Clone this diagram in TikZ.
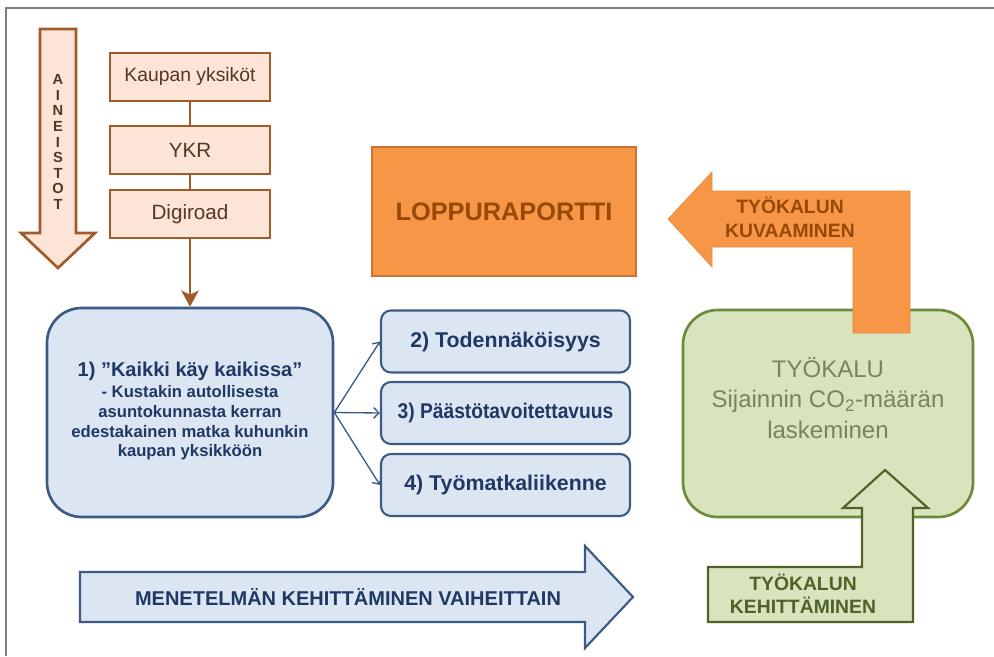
\documentclass[tikz,border=0pt]{standalone}
\usepackage{fontspec}
\setmainfont{Liberation Sans}
\usepackage{graphicx}
\usetikzlibrary{arrows.meta}
\definecolor{peach}{HTML}{FCE4D6}
\definecolor{brownln}{HTML}{A35A2A}
\definecolor{browntx}{HTML}{553722}
\definecolor{bluefill}{HTML}{DCE6F2}
\definecolor{blueln}{HTML}{3B5B85}
\definecolor{bluetx}{HTML}{1F3864}
\definecolor{orangef}{HTML}{F79646}
\definecolor{orangeln}{HTML}{C8732F}
\definecolor{orangetx}{HTML}{984807}
\definecolor{greenf}{HTML}{D7E4BD}
\definecolor{greenln}{HTML}{6B8A3A}
\definecolor{greendk}{HTML}{4F6228}
\definecolor{greentx}{HTML}{77845F}
\definecolor{framegray}{HTML}{7F7F7F}
\tikzset{
  peachbox/.style={draw=brownln, fill=peach, line width=2pt, inner sep=0pt,
    minimum width=120pt, minimum height=36pt, text=browntx},
  bluebox/.style={draw=blueln, fill=bluefill, line width=1.6pt, inner sep=0pt,
    rounded corners=7.5pt, minimum width=186.75pt, minimum height=46.5pt, text=bluetx,
    font=\bfseries\fontsize{16}{19}\selectfont},
  fanarrow/.style={draw=blueln, line width=1pt, -{Straight Barb[length=4pt,width=8pt]}},
  brownconn/.style={draw=brownln, line width=2.2pt},
}
\begin{document}
\begin{tikzpicture}[x=0.75pt,y=-0.75pt]
\useasboundingbox (0,0) rectangle (994,656);
% frame
\draw[framegray, line width=1.4pt] (6,656) -- (6,8) -- (994,8);

% AINEISTOT arrow
\draw[draw=brownln, fill=peach, line width=2pt, line join=miter]
  (40,29) -- (76,29) -- (76,233) -- (95,233) -- (58,268) -- (21,233) -- (40,233) -- cycle;
\node[text=browntx, align=center, inner sep=0pt, font=\bfseries\fontsize{11}{11.7}\selectfont]
  (aineistot) at (58,142) {A\\I\\N\\E\\I\\S\\T\\O\\T};

% source boxes
\node[peachbox, font=\fontsize{14.5}{17}\selectfont] (kaupan) at (190,77) {Kaupan yksiköt};
\node[peachbox, font=\fontsize{15.5}{18}\selectfont] (ykr) at (190,150) {YKR};
\node[peachbox, font=\fontsize{15.5}{18}\selectfont] (digiroad) at (190,214) {Digiroad};
\draw[brownconn] (kaupan) -- (ykr);
\draw[brownconn] (ykr) -- (digiroad);

% main blue box
\node[draw=blueln, fill=bluefill, line width=2pt, rounded corners=26pt,
  minimum width=214.5pt, minimum height=156.75pt, inner sep=0pt] (main) at (190,412.5) {};
\node[text=bluetx, align=center, inner sep=0pt, font=\bfseries\fontsize{12.5}{14.8}\selectfont]
  (maintext) at (190,411)
  {{\fontsize{15}{17}\selectfont 1) ”Kaikki käy kaikissa”}\\[1.5pt]
   - Kustakin autollisesta\\asuntokunnasta kerran\\edestakainen matka kuhunkin\\kaupan yksikköön};
\draw[brownconn, -{Stealth[length=12pt,width=13pt,inset=3pt]}] (digiroad) -- (main);

% right blue boxes
\node[bluebox] (t2) at (505.5,341.5) {2) Todennäköisyys};
\node[bluebox] (t3) at (505.5,413) {\scalebox{0.9}[1]{3) Päästötavoitettavuus}};
\node[bluebox] (t4) at (505.5,485) {4) Työmatkaliikenne};
\draw[fanarrow] (main.east) -- (t2.west);
\draw[fanarrow] (main.east) -- (t3.west);
\draw[fanarrow] (main.east) -- (t4.west);

% LOPPURAPORTTI
\node[draw=orangeln, fill=orangef, line width=1.2pt, minimum width=198pt, minimum height=96.75pt,
  inner sep=0pt, text=orangetx, font=\bfseries\fontsize{19}{22}\selectfont]
  (lopp) at (504,211.5) {LOPPURAPORTTI};

% green tool box
\node[draw=greenln, fill=greenf, line width=2pt, rounded corners=26pt,
  minimum width=217.5pt, minimum height=155.25pt, inner sep=0pt] (tool) at (828,413.5) {};
\node[text=greentx, align=center, inner sep=0pt, font=\fontsize{18}{23}\selectfont]
  (tooltext) at (828,398) {TYÖKALU\\Sijainnin CO\textsubscript{2}-määrän\\laskeminen};

% orange bent arrow
\draw[fill=orangef, draw=orangef!92!black, line width=0.5pt, line join=miter]
  (668,219) -- (712,172) -- (712,191) -- (910,191) -- (910,333) -- (853,333)
  -- (853,247) -- (712,247) -- (712,267) -- cycle;
\node[text=orangetx, align=center, inner sep=0pt, font=\bfseries\fontsize{14.5}{18}\selectfont]
  (kuvaaminen) at (790,217) {TYÖKALUN\\KUVAAMINEN};

% green bent arrow
\draw[fill=greenf, draw=greendk, line width=1.6pt, line join=miter]
  (885,470) -- (928,508) -- (913,508) -- (913,622) -- (708,622) -- (708,567)
  -- (862,567) -- (862,508) -- (843,508) -- cycle;
\node[text=greendk, align=center, inner sep=0pt, font=\bfseries\fontsize{14.5}{17}\selectfont]
  (kehittaminen) at (803,594) {TYÖKALUN\\KEHITTÄMINEN};

% big blue arrow
\draw[fill=bluefill, draw=blueln, line width=1.6pt, line join=miter]
  (80,572) -- (585,572) -- (585,546) -- (633,597) -- (585,648) -- (585,622) -- (80,622) -- cycle;
\node[text=bluetx, inner sep=0pt, font=\bfseries\fontsize{15}{18}\selectfont]
  (menetelma) at (348,597) {MENETELMÄN KEHITTÄMINEN VAIHEITTAIN};
\end{tikzpicture}
\end{document}
